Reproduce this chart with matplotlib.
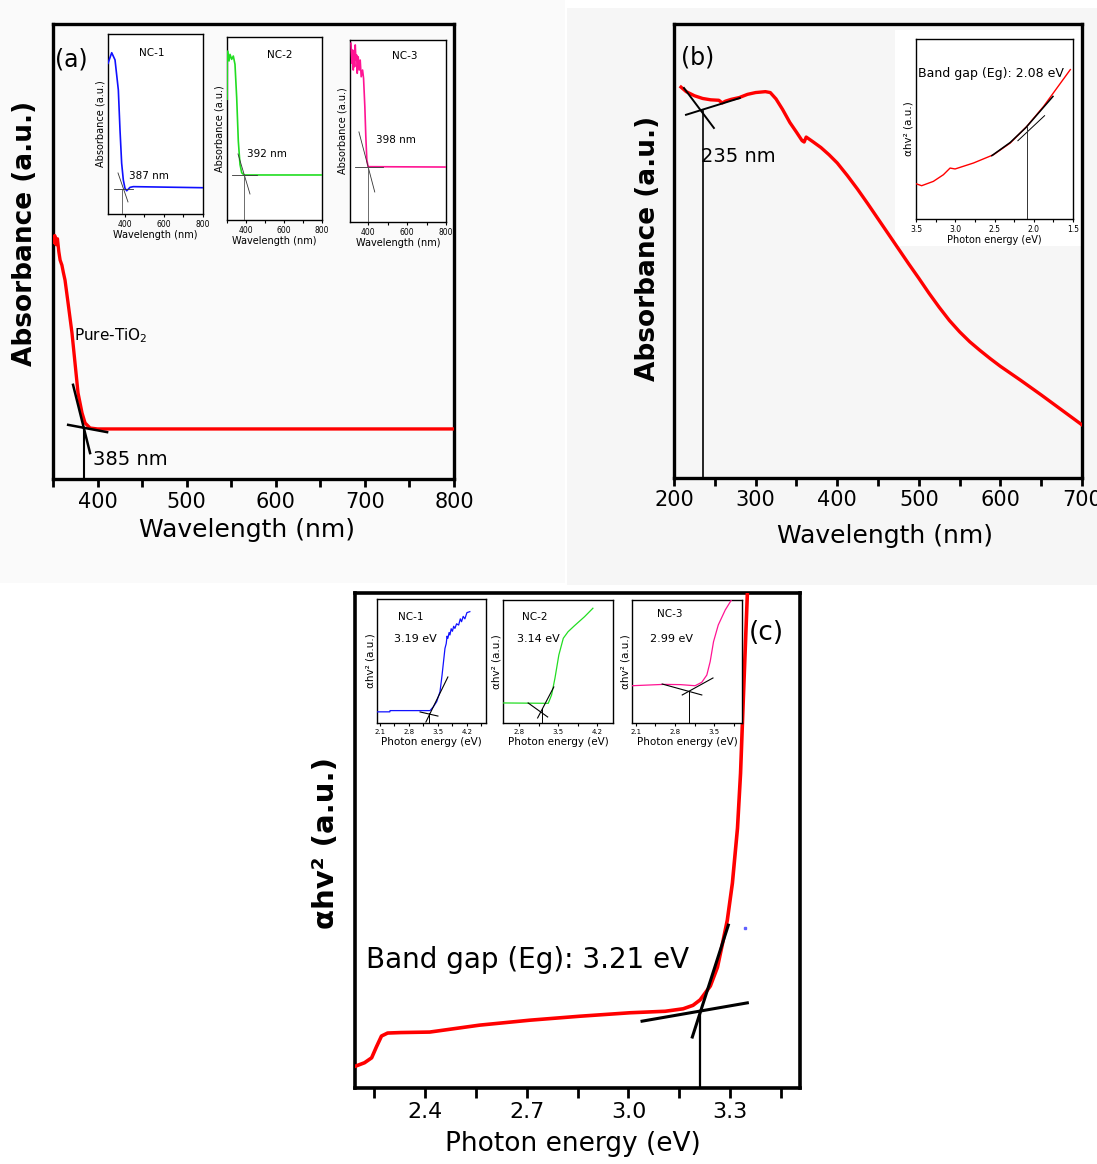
import matplotlib
matplotlib.use('Agg')
import matplotlib.pyplot as plt
from matplotlib.ticker import MultipleLocator, FixedLocator, NullLocator, FormatStrFormatter
from matplotlib.patches import Rectangle

W, H = 1097, 1164
plt.rcParams['font.family'] = ['DejaVu Sans']

# ---------------- DATA ----------------
# (a) pure TiO2 absorbance
a_wl  = [350.5, 352.0, 353.5, 355.0, 356.5, 358.0, 360.0, 361.5, 363.5, 366.9, 371.3, 374.7, 378.1, 382.6, 386.0, 391.6, 400.0, 800.0]
a_abs = [0.520, 0.535, 0.515, 0.528, 0.500, 0.481, 0.470, 0.455, 0.437, 0.387, 0.321, 0.255, 0.189, 0.145, 0.123, 0.112, 0.110, 0.110]
a_tan1_wl, a_tan1_abs = [372.5, 391.6], [0.207, 0.057]
a_tan2_wl, a_tan2_abs = [367.0, 410.7], [0.119, 0.103]
a_edge, a_edge_abs = 385, 0.112
a_ticks = [400, 500, 600, 700, 800]

# (a) insets
nc1a_wl  = [313, 332, 349, 366, 374.5, 383, 391.5, 400, 408.9, 425.8, 442.7, 800]
nc1a_abs = [0.837, 0.896, 0.856, 0.689, 0.467, 0.282, 0.189, 0.143, 0.129, 0.148, 0.152, 0.146]
nc1a_t1 = ([343.8, 441.2], [0.139, 0.139])
nc1a_t2 = ([364.3, 415.5], [0.228, 0.067])
nc1a_edge, nc1a_edge_abs = 387, 0.139

nc2a_wl  = [300.5, 301.5, 303.7, 310.5, 315.8, 324.7, 333.2, 342.0, 351.0, 359.5, 368.4, 377.4, 389.5, 800]
nc2a_abs = [0.660, 0.920, 0.923, 0.869, 0.905, 0.878, 0.896, 0.851, 0.668, 0.432, 0.304, 0.258, 0.246, 0.246]
nc2a_t1 = ([326, 458], [0.246, 0.246])
nc2a_t2 = ([358, 421], [0.361, 0.142])
nc2a_edge, nc2a_edge_abs = 392, 0.246

nc3a_wl  = [310.1, 315.2, 318.8, 321.8, 325.4, 329.0, 332.0, 335.6, 339.2, 342.3, 347.4, 352.5, 357.6, 362.7, 369.8, 374.9, 381.5, 386.6, 391.8, 398.4, 800]
nc3a_abs = [0.982, 0.872, 0.945, 0.835, 0.927, 0.853, 0.973, 0.890, 0.918, 0.817, 0.908, 0.835, 0.890, 0.798, 0.835, 0.790, 0.634, 0.469, 0.341, 0.304, 0.302]
nc3a_t1 = ([330.5, 473], [0.302, 0.302])
nc3a_t2 = ([351, 432.6], [0.495, 0.165])
nc3a_edge, nc3a_edge_abs = 398, 0.302

# (b) absorbance
b_wl  = [208.6, 215.0, 225.0, 235.0, 245.0, 255.0, 259.0, 263.0, 270.0, 280.0, 290.0, 300.0, 312.0, 318.0, 325.0, 333.0, 342.0, 350.0, 357.0, 359.5, 362.0, 370.0, 380.0, 390.0, 400.0, 412.5, 425.0, 437.5, 450.0, 462.5, 475.0, 487.5, 500.0, 512.5, 525.0, 537.5, 550.0, 562.5, 575.0, 587.5, 600.0, 625.0, 650.0, 675.0, 700.0]
b_abs = [0.861, 0.851, 0.842, 0.836, 0.833, 0.832, 0.826, 0.830, 0.834, 0.838, 0.845, 0.849, 0.851, 0.849, 0.835, 0.812, 0.783, 0.762, 0.743, 0.740, 0.751, 0.741, 0.728, 0.712, 0.694, 0.666, 0.636, 0.604, 0.571, 0.538, 0.505, 0.472, 0.440, 0.407, 0.376, 0.347, 0.322, 0.300, 0.281, 0.263, 0.246, 0.215, 0.183, 0.150, 0.117]
b_tan1_wl, b_tan1_abs = [212.2, 248.9], [0.859, 0.771]
b_tan2_wl, b_tan2_abs = [214.7, 280.7], [0.800, 0.837]
b_edge, b_edge_abs = 235, 0.808
b_ticks = [200, 300, 400, 500, 600, 700]

# (b) inset Tauc plot
bi_E   = [3.50, 3.428, 3.279, 3.151, 3.066, 3.002, 2.768, 2.513, 2.30, 2.087, 1.874, 1.704, 1.534]
bi_val = [0.196, 0.185, 0.209, 0.246, 0.283, 0.278, 0.311, 0.357, 0.422, 0.515, 0.626, 0.728, 0.830]
bi_fit_E, bi_fit_val = [2.534, 2.30, 2.10, 1.755], [0.352, 0.425, 0.508, 0.681]
bi_t2_E, bi_t2_val = [2.202, 1.862], [0.435, 0.574]
bi_edge, bi_edge_val = 2.08, 0.51
bi_ticks = [3.5, 3.0, 2.5, 2.0, 1.5]

# (c) Tauc plot
c_E   = [2.196, 2.223, 2.244, 2.258, 2.273, 2.291, 2.33, 2.415, 2.562, 2.71, 2.857, 3.005, 3.108, 3.161, 3.19, 3.211, 3.241, 3.262, 3.276, 3.291, 3.306, 3.321, 3.330, 3.338, 3.350, 3.353]
c_val = [0.044, 0.051, 0.061, 0.083, 0.105, 0.111, 0.112, 0.113, 0.127, 0.137, 0.145, 0.152, 0.155, 0.160, 0.167, 0.178, 0.206, 0.244, 0.289, 0.339, 0.414, 0.525, 0.636, 0.784, 0.998, 1.05]
c_tan1_E, c_tan1_val = [3.040, 3.350], [0.135, 0.172]
c_tan2_E, c_tan2_val = [3.188, 3.294], [0.103, 0.329]
c_edge, c_edge_val = 3.21, 0.155
c_dot = (3.344, 0.323)
c_ticks = [2.4, 2.7, 3.0, 3.3]

# (c) insets
nc1c_E   = [2.03, 2.34, 2.345, 3.31, 3.39, 3.47, 3.55, 3.60, 3.67, 3.70, 3.72, 3.74, 3.77, 3.79, 3.82, 3.85, 3.88, 3.91, 3.95, 4.00, 4.04, 4.07, 4.11, 4.15, 4.20, 4.27]
nc1c_val = [0.090, 0.090, 0.100, 0.100, 0.131, 0.172, 0.252, 0.387, 0.602, 0.640, 0.700, 0.683, 0.730, 0.710, 0.760, 0.740, 0.780, 0.763, 0.800, 0.790, 0.840, 0.817, 0.860, 0.840, 0.890, 0.898]
nc1c_t1 = ([3.07, 3.50], [0.089, 0.056])
nc1c_t2 = ([3.21, 3.74], [0.008, 0.371])
nc1c_edge, nc1c_edge_val = 3.28, 0.08
nc1c_ticks = [2.1, 2.8, 3.5, 4.2]

nc2c_E   = [2.51, 3.32, 3.38, 3.44, 3.51, 3.59, 3.675, 3.79, 3.97, 4.12]
nc2c_val = [0.163, 0.160, 0.228, 0.363, 0.553, 0.689, 0.742, 0.791, 0.864, 0.933]
nc2c_t1 = ([2.96, 3.31], [0.163, 0.049])
nc2c_t2 = ([3.13, 3.42], [0.041, 0.293])
nc2c_edge, nc2c_edge_val = 3.21, 0.12
nc2c_ticks = [2.8, 3.5, 4.2]

nc3c_E   = [2.03, 2.60, 2.90, 3.16, 3.28, 3.37, 3.43, 3.49, 3.575, 3.70, 3.81]
nc3c_val = [0.303, 0.314, 0.312, 0.303, 0.331, 0.390, 0.499, 0.661, 0.797, 0.919, 1.000]
nc3c_t1 = ([2.57, 3.28], [0.317, 0.228])
nc3c_t2 = ([2.93, 3.48], [0.228, 0.366])
nc3c_edge, nc3c_edge_val = 3.05, 0.26
nc3c_ticks = [2.1, 2.8, 3.5]

RED = '#ff0000'
BLUE = '#1010ff'
GREEN = '#22dd22'
PINK = '#ff1493'

# ---------------- FIGURE ----------------
fig = plt.figure(figsize=(W / 100, H / 100), dpi=100)
fig.patch.set_facecolor('white')

def frect(l, t, r, b, color):
    fig.patches.append(Rectangle((l / W, 1 - b / H), (r - l) / W, (b - t) / H,
                                 transform=fig.transFigure, facecolor=color,
                                 edgecolor='none', zorder=-10))

def add_ax(l, t, r, b):
    return fig.add_axes([l / W, 1 - b / H, (r - l) / W, (b - t) / H])

def ftxt(x, y, s, **kw):
    kw.setdefault('ha', 'center')
    kw.setdefault('va', 'center')
    fig.text(x / W, 1 - y / H, s, **kw)

frect(0, 0, 565, 583, '#fafafa')
frect(567, 8, 1097, 585, '#f6f6f6')
frect(895, 30, 1082, 246, 'white')

def style_main(ax, lw=2.4):
    ax.set_facecolor('none')
    for s in ax.spines.values():
        s.set_linewidth(lw)
    ax.yaxis.set_major_locator(NullLocator())
    ax.yaxis.set_minor_locator(NullLocator())
    ax.tick_params(axis='x', which='both', direction='out', length=6, width=2,
                   labelsize=15, pad=3)

def style_inset(ax, fs=5.5):
    ax.set_facecolor('white')
    for s in ax.spines.values():
        s.set_linewidth(1.0)
    ax.yaxis.set_major_locator(NullLocator())
    ax.yaxis.set_minor_locator(NullLocator())
    ax.tick_params(axis='x', which='both', direction='out', length=2.5, width=0.8,
                   labelsize=fs, pad=1.5)

# ---- panel (a) ----
axa = add_ax(53, 24, 454, 479)
style_main(axa)
axa.plot(a_wl, a_abs, color=RED, lw=2.4, zorder=3)
axa.plot(a_tan1_wl, a_tan1_abs, color='black', lw=1.8, zorder=4)
axa.plot(a_tan2_wl, a_tan2_abs, color='black', lw=1.8, zorder=4)
axa.plot([a_edge, a_edge], [0, a_edge_abs], color='black', lw=1.5, zorder=4)
axa.set_xlim(350, 800)
axa.set_ylim(0, 1)
axa.xaxis.set_major_locator(FixedLocator(a_ticks))
axa.xaxis.set_minor_locator(MultipleLocator(50))
ftxt(130, 460, '385 nm', fontsize=14)
ftxt(111, 336, 'Pure-TiO$_2$', fontsize=11)
ftxt(71, 60, '(a)', fontsize=17)
ftxt(25, 233, 'Absorbance (a.u.)', fontsize=19, fontweight='bold', rotation=90)
ftxt(247, 530, 'Wavelength (nm)', fontsize=18)

inset_a = [
    ((108, 34, 203, 214), (313, 800), nc1a_wl, nc1a_abs, BLUE, nc1a_t1, nc1a_t2, nc1a_edge, nc1a_edge_abs, 'NC-1', (152, 53), '387 nm', (149, 176)),
    ((227, 37, 322, 220), (300, 800), nc2a_wl, nc2a_abs, GREEN, nc2a_t1, nc2a_t2, nc2a_edge, nc2a_edge_abs, 'NC-2', (280, 55), '392 nm', (267, 154)),
    ((350, 40, 446, 222), (305, 800), nc3a_wl, nc3a_abs, PINK, nc3a_t1, nc3a_t2, nc3a_edge, nc3a_edge_abs, 'NC-3', (405, 56), '398 nm', (396, 140)),
]
for box, xl, xs, ys, col, t1, t2, ed, edv, name, npos, lab, lpos in inset_a:
    ax = add_ax(*box)
    style_inset(ax)
    ax.plot(xs, ys, color=col, lw=1.2, zorder=3)
    ax.plot(t1[0], t1[1], color='#333333', lw=0.6, zorder=4)
    ax.plot(t2[0], t2[1], color='#333333', lw=0.6, zorder=4)
    ax.plot([ed, ed], [0, edv], color='#555555', lw=0.6, zorder=4)
    ax.set_xlim(*xl)
    ax.set_ylim(0, 1)
    ax.xaxis.set_major_locator(MultipleLocator(200))
    ax.xaxis.set_minor_locator(MultipleLocator(100))
    ax.set_xlabel('Wavelength (nm)', fontsize=7, labelpad=1)
    ax.set_ylabel('Absorbance (a.u.)', fontsize=7, labelpad=2)
    ftxt(npos[0], npos[1], name, fontsize=7.5)
    ftxt(lpos[0], lpos[1], lab, fontsize=7.5)

# ---- panel (b) ----
axb = add_ax(674, 24, 1082, 478)
style_main(axb)
axb.plot(b_wl, b_abs, color=RED, lw=2.4, zorder=3)
axb.plot(b_tan1_wl, b_tan1_abs, color='black', lw=1.4, zorder=4)
axb.plot(b_tan2_wl, b_tan2_abs, color='black', lw=1.4, zorder=4)
axb.plot([b_edge, b_edge], [0, b_edge_abs], color='black', lw=1.2, zorder=4)
axb.set_xlim(200, 700)
axb.set_ylim(0, 1)
axb.xaxis.set_major_locator(FixedLocator(b_ticks))
axb.xaxis.set_minor_locator(MultipleLocator(50))
ftxt(738, 156, '235 nm', fontsize=14)
ftxt(698, 57, '(b)', fontsize=17)
ftxt(648, 248, 'Absorbance (a.u.)', fontsize=19, fontweight='bold', rotation=90)
ftxt(885, 536, 'Wavelength (nm)', fontsize=18)

axbi = add_ax(916, 39, 1073, 219)
style_inset(axbi)
axbi.plot(bi_E, bi_val, color=RED, lw=1.0, zorder=3)
axbi.plot(bi_fit_E, bi_fit_val, color='black', lw=1.1, zorder=4)
axbi.plot(bi_t2_E, bi_t2_val, color='black', lw=0.7, zorder=4)
axbi.plot([bi_edge, bi_edge], [0, bi_edge_val], color='#333333', lw=0.7, zorder=4)
axbi.set_xlim(3.5, 1.5)
axbi.set_ylim(0, 1)
axbi.xaxis.set_major_locator(FixedLocator(bi_ticks))
axbi.xaxis.set_minor_locator(MultipleLocator(0.25))
axbi.xaxis.set_major_formatter(FormatStrFormatter('%.1f'))
axbi.set_xlabel('Photon energy (eV)', fontsize=7, labelpad=1)
axbi.set_ylabel('αhv² (a.u.)', fontsize=7.5, labelpad=2)
ftxt(918, 74, 'Band gap (Eg): 2.08 eV', fontsize=9, ha='left')

# ---- panel (c) ----
axc = add_ax(355, 593, 800, 1088)
style_main(axc, lw=2.6)
axc.plot(c_E, c_val, color=RED, lw=2.6, zorder=3)
axc.plot(c_tan1_E, c_tan1_val, color='black', lw=2.2, zorder=4)
axc.plot(c_tan2_E, c_tan2_val, color='black', lw=2.2, zorder=4)
axc.plot([c_edge, c_edge], [0, c_edge_val], color='black', lw=1.6, zorder=4)
axc.plot([c_dot[0]], [c_dot[1]], marker='s', ms=1.5, color='#6060ff', lw=0)
axc.set_xlim(2.195, 3.505)
axc.set_ylim(0, 1)
axc.xaxis.set_major_locator(FixedLocator(c_ticks))
axc.xaxis.set_minor_locator(FixedLocator([2.25, 2.55, 2.85, 3.15, 3.45]))
axc.xaxis.set_major_formatter(FormatStrFormatter('%.1f'))
axc.tick_params(axis='x', which='both', length=7, labelsize=16)
ftxt(366, 960, 'Band gap (Eg): 3.21 eV', fontsize=20, ha='left')
ftxt(766, 633, '(c)', fontsize=19)
ftxt(326, 843, 'αhv² (a.u.)', fontsize=21, fontweight='bold', rotation=90)
ftxt(573, 1144, 'Photon energy (eV)', fontsize=19)

inset_c = [
    ((377, 599, 486, 723), (2.03, 4.66), nc1c_E, nc1c_val, BLUE, nc1c_t1, nc1c_t2, nc1c_edge, nc1c_edge_val, nc1c_ticks, 'NC-1', (411, 617), '3.19 eV', (415, 639)),
    ((503, 600, 613, 723), (2.51, 4.48), nc2c_E, nc2c_val, GREEN, nc2c_t1, nc2c_t2, nc2c_edge, nc2c_edge_val, nc2c_ticks, 'NC-2', (535, 617), '3.14 eV', (538, 639)),
    ((632, 600, 742, 723), (2.03, 4.00), nc3c_E, nc3c_val, PINK, nc3c_t1, nc3c_t2, nc3c_edge, nc3c_edge_val, nc3c_ticks, 'NC-3', (670, 614), '2.99 eV', (672, 639)),
]
for box, xl, xs, ys, col, t1, t2, ed, edv, tks, name, npos, lab, lpos in inset_c:
    ax = add_ax(*box)
    style_inset(ax, fs=5)
    ax.plot(xs, ys, color=col, lw=0.9, zorder=3)
    ax.plot(t1[0], t1[1], color='black', lw=0.8, zorder=4)
    ax.plot(t2[0], t2[1], color='black', lw=0.8, zorder=4)
    ax.plot([ed, ed], [0, edv], color='black', lw=0.7, zorder=4)
    ax.set_xlim(*xl)
    ax.set_ylim(0, 1)
    ax.xaxis.set_major_locator(FixedLocator(tks))
    ax.xaxis.set_minor_locator(FixedLocator([t + 0.35 for t in tks]))
    ax.xaxis.set_major_formatter(FormatStrFormatter('%.1f'))
    ax.set_xlabel('Photon energy (eV)', fontsize=7.5, labelpad=2)
    ax.set_ylabel('αhv² (a.u.)', fontsize=7.5, labelpad=1)
    ftxt(npos[0], npos[1], name, fontsize=7.5)
    ftxt(lpos[0], lpos[1], lab, fontsize=8)

fig.savefig('out.png', dpi=100)
